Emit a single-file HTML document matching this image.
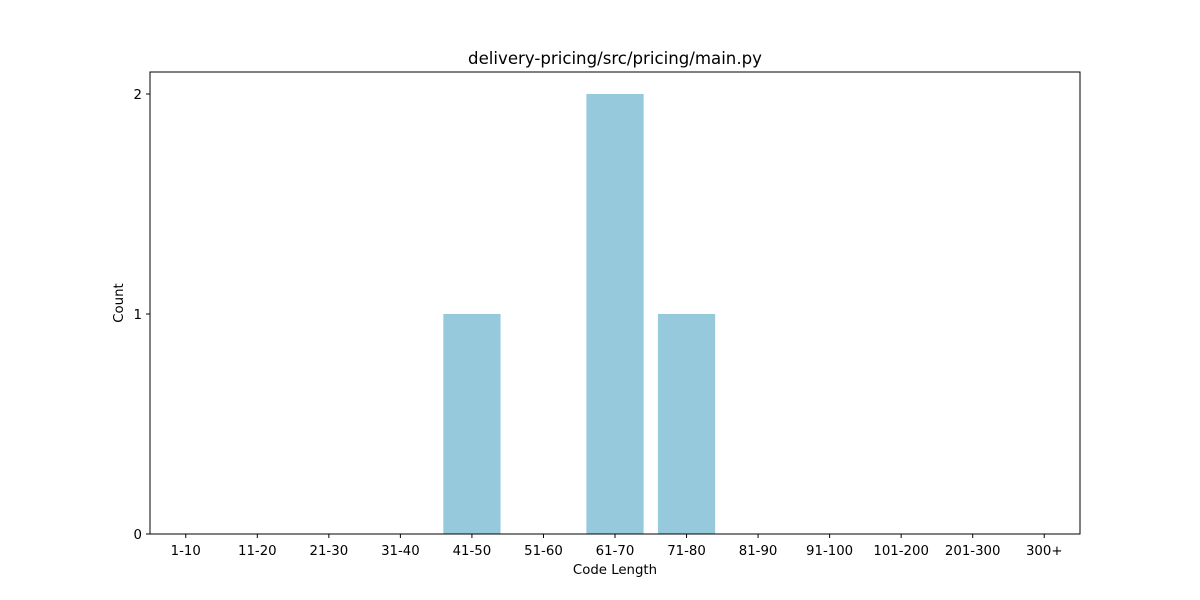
<!DOCTYPE html>
<html><head><meta charset="utf-8"><style>
html,body{margin:0;padding:0;background:#fff;}
svg{display:block;font-family:"DejaVu Sans","Liberation Sans",sans-serif;}
</style></head><body>
<svg id="chart" width="1200" height="600" viewBox="0 0 1200 600">
<rect x="0" y="0" width="1200" height="600" fill="#fff"/>
<g id="bars"></g>
<g id="xticks"></g>
<g id="yticks"></g>
<rect x="150" y="72" width="930" height="462" fill="none" stroke="#000" stroke-width="1"/>
<text x="615" y="64" text-anchor="middle" font-size="16.6">delivery-pricing/src/pricing/main.py</text>
<text x="615" y="574" text-anchor="middle" font-size="13.3">Code Length</text>
<text x="123" y="303" text-anchor="middle" font-size="13.3" transform="rotate(-90 123 303)">Count</text>
</svg>
<script>
const categories = ["1-10","11-20","21-30","31-40","41-50","51-60","61-70","71-80","81-90","91-100","101-200","201-300","300+"];
const counts = [0,0,0,0,1,0,2,1,0,0,0,0,0];
const yTicks = [0,1,2];
const NS="http://www.w3.org/2000/svg";
const L=150,R=1080,T=72,B=534,yMax=2.1;
const xs=i=>L+(i+0.5)*(R-L)/categories.length;
const ys=v=>B-v*(B-T)/yMax;
const unit=(R-L)/categories.length;
const bars=document.getElementById('bars'),xt=document.getElementById('xticks'),yt=document.getElementById('yticks');
categories.forEach((c,i)=>{
  const r=document.createElementNS(NS,'rect');
  const x=xs(i)-0.4*unit;
  r.setAttribute('x',x);r.setAttribute('width',0.8*unit);
  r.setAttribute('y',ys(counts[i]));r.setAttribute('height',ys(0)-ys(counts[i]));
  r.setAttribute('fill','#96c9dc');
  
  
  bars.appendChild(r);
  const t=document.createElementNS(NS,'line');
  t.setAttribute('x1',xs(i));t.setAttribute('x2',xs(i));t.setAttribute('y1',B);t.setAttribute('y2',B+4);t.setAttribute('stroke','#000');
  
  
  xt.appendChild(t);
  const l=document.createElementNS(NS,'text');
  l.setAttribute('x',xs(i));l.setAttribute('y',555);l.setAttribute('text-anchor','middle');l.setAttribute('font-size','13.3');
  l.textContent=c;
  
  
  xt.appendChild(l);
});
yTicks.forEach(v=>{
  const t=document.createElementNS(NS,'line');
  t.setAttribute('x1',L-4);t.setAttribute('x2',L);t.setAttribute('y1',ys(v));t.setAttribute('y2',ys(v));t.setAttribute('stroke','#000');
  
  
  yt.appendChild(t);
  const l=document.createElementNS(NS,'text');
  l.setAttribute('x',L-8);l.setAttribute('y',ys(v)+5);l.setAttribute('text-anchor','end');l.setAttribute('font-size','13.3');
  l.textContent=v;
  
  
  yt.appendChild(l);
});
</script>
</body></html>
